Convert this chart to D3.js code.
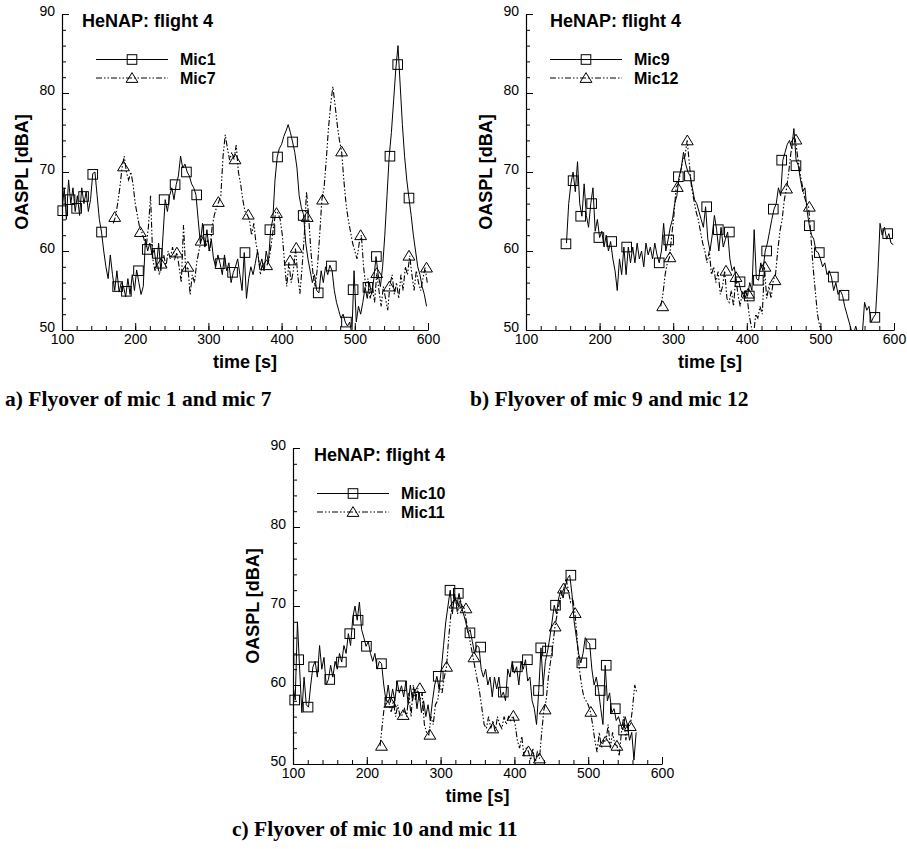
<!DOCTYPE html>
<html>
<head>
<meta charset="utf-8">
<script src="https://cdn.jsdelivr.net/npm/d3@7"></script>
<style>
body { margin: 0; background: #fff; }
svg { display: block; background: #fff; }
</style>
</head>
<body>
<svg width="907" height="849"></svg>
<script>
var mic1Start = 100, mic1Step = 3;
var mic1 = [65, 68, 64, 69, 66, 68, 65, 67, 64.5, 68,
  66, 67.5, 65, 66.5, 69.8, 70, 67, 64, 62.4, 60,
  58, 56.5, 59.5, 57, 55, 57.5, 54.8, 56, 55.5, 54.2,
  56.5, 54.5, 57, 55, 57.6, 56, 54.5, 55.5, 61.5, 60,
  61, 59.5, 60.2, 58, 61, 57.5, 62, 66.5, 65, 67,
  68, 66.5, 68.4, 69.5, 72, 70.5, 71, 70, 69.5, 68.5,
  68, 67.1, 64, 61, 63.5, 60.5, 62.7, 60, 61.5, 59,
  58, 59.5, 58.4, 57, 59.5, 57.5, 58.5, 56, 57.3, 58,
  59, 57, 55, 59.8, 54, 56.5, 58, 57, 58.4, 60,
  58, 59, 57.5, 60, 58.5, 62.7, 64, 69, 71.9, 73,
  73.5, 74.5, 75.2, 76, 75, 73.8, 72.5, 70.5, 67, 65.5,
  64.6, 61, 59, 57.5, 56, 57, 55, 54.7, 57.5, 56,
  58, 57, 58.2, 57.5, 55, 53.5, 52.5, 51.5, 52, 51,
  50.5, 51, 49.5, 57.5, 51, 53, 52, 53.5, 55.4, 54,
  56, 54.5, 56.5, 59.3, 57, 55.5, 58, 62, 67, 72,
  75, 79, 83, 86, 81, 76, 72, 69, 66.7, 64.5,
  62, 60, 58, 57, 55.5, 54.5, 53];

var mic7Start = 170, mic7Step = 3;
var mic7 = [63.5, 64.3, 66, 68, 70.5, 72, 70, 69, 70, 68.5,
  66, 64.5, 63, 62.4, 61.5, 60.5, 63, 67, 59, 57.5,
  58.5, 57, 58.4, 59.5, 58, 60, 59, 60.5, 59, 59.8,
  58, 56, 63.3, 57.5, 58, 54.5, 57, 56, 58.5, 60,
  61.3, 62, 60.5, 61.5, 60, 63, 64.5, 65.5, 66.2, 67,
  72, 74.7, 73, 71.5, 72.5, 71.6, 73.4, 70, 68.5, 66.5,
  65, 64.6, 64, 62, 63.5, 61, 59.5, 57, 58.5, 58,
  58.2, 59, 61, 63, 65, 64.8, 64, 62, 58.5, 55.5,
  58.6, 56, 57.5, 60.3, 57, 54.6, 58, 62, 67.5, 64.3,
  60, 57, 55.5, 58, 62, 66.5, 68, 71.5, 75.5, 78.5,
  80.8, 78.5, 76, 74, 72.6, 69, 66, 64, 62.5, 61,
  60, 59, 61, 62, 58, 55.5, 56.5, 54, 55.5, 53.5,
  57.2, 55, 53, 55.5, 54, 52.5, 55.7, 57, 54.5, 56,
  54, 57, 55, 58, 57, 59.4, 57, 55, 57.5, 56,
  55, 56.5, 57.9, 56];

var mic9Start = 155, mic9Step = 3;
var mic9 = [61, 66, 68.5, 70, 67.5, 71.3, 66, 64.4, 68.5, 64.5,
  63, 66, 68, 62.5, 64, 61.7, 62.5, 60.5, 62, 60,
  61.2, 59, 57.5, 55, 59, 57, 60.5, 57, 60.5, 58.5,
  60.5, 58.5, 61, 59, 60, 58, 61, 59.5, 60.5, 59,
  61, 59.5, 58.5, 60, 63.5, 60, 61.4, 63, 64, 66,
  67, 69.4, 70.5, 72.5, 71, 70, 69.5, 68, 66.5, 66,
  65, 64, 63, 65.6, 61.5, 60, 62, 64.5, 62.7, 60,
  63, 60.5, 61.5, 62.4, 59, 57.5, 58, 56, 56.1, 55,
  54.5, 55, 54.3, 56, 55, 62.7, 56.5, 56.3, 58.5, 57.5,
  60, 61, 62.5, 64, 65.3, 66, 68, 67, 71.5, 72.5,
  73.5, 74, 73, 75.5, 71.5, 70.8, 69, 67.5, 68, 65,
  63.2, 62, 61.5, 60, 59.8, 59, 58, 58.5, 57, 57.5,
  56.7, 55, 56, 54.5, 55, 54.4, 53, 52, 51, 50,
  49.5, 50.5, 49.5, 50, 49.5, 53.5, 52.5, 53, 51, 51.6,
  52, 57, 63.5, 62, 63, 61.5, 62.2, 61, 60.8];

var mic12Start = 283, mic12Step = 3;
var mic12 = [53, 54.5, 57, 58.5, 59.2, 62, 64.5, 68.1, 68.5, 70,
  71.5, 72, 74, 71, 68, 66.5, 65, 64, 62.5, 61,
  60, 58.5, 60, 57, 58, 56, 57.4, 54.5, 55.5, 57.5,
  54, 53.5, 55, 53, 56.7, 54.5, 53, 55, 54, 54.6,
  52, 50.5, 49, 52, 51.5, 53, 52, 58, 54, 55.5,
  54, 56.3, 57, 60, 62.5, 64, 66.5, 67.9, 70, 72.5,
  73.5, 74.1, 72, 70, 68.5, 67, 66, 65.6, 62, 58,
  55, 52, 50.5, 49.5, 49];

var mic10Start = 100, mic10Step = 3;
var mic10 = [60, 58.1, 68, 62, 56.5, 61, 57.5, 57.2, 60, 62.3,
  63, 61, 65, 62, 63.5, 60, 60.7, 62.5, 61, 63,
  62, 64, 62.9, 65, 64, 66.5, 65, 68.5, 70, 68.2,
  70.5, 67, 66, 64.9, 65.5, 64, 63, 64, 62, 63,
  62.7, 60, 58, 60, 57.8, 59.5, 58, 60.5, 59, 59.9,
  58.5, 60.5, 57.5, 60, 58, 59.5, 57, 59, 56.5, 58,
  56, 57.5, 55.5, 58, 60, 61.1, 59.5, 62, 65, 68,
  70, 72, 69, 71.5, 70, 71.6, 70, 69, 68, 66.6,
  67, 65.5, 64, 65, 64.8, 62, 61, 62, 60, 61,
  58.5, 61, 59.5, 61, 58.5, 59.1, 58, 62, 61, 63,
  61.5, 62.3, 60, 63, 62, 63.2, 60.5, 61, 58, 57,
  55, 59.3, 64.7, 60, 63, 64.3, 66, 68, 70.1, 69,
  71, 72, 71, 72.5, 73.5, 73.9, 71.5, 68, 66, 64,
  62.8, 64, 66, 65.5, 65.2, 62, 60, 61, 59.3, 57,
  55, 62.5, 58, 59, 56.5, 57, 55.5, 56, 55, 54.3,
  56, 55, 53, 54, 50.5, 54];

var mic11Start = 218, mic11Step = 3;
var mic11 = [52.3, 55, 57.5, 58, 57.8, 56.5, 58, 56, 57.5, 56,
  56.2, 57, 56, 59, 56, 60, 58, 59.6, 58, 59,
  55, 54, 53.7, 56, 55, 57.5, 58, 60, 59, 61,
  62.3, 66, 69, 70.3, 71, 69, 71, 70, 69.7, 68,
  66.5, 65, 63.5, 62, 60.5, 59, 57, 55, 54.5, 56,
  54.5, 55.5, 54, 56, 55, 54.5, 56, 55, 56, 55.5,
  56.1, 55, 53, 52, 53.5, 51, 52, 51.6, 50.5, 52,
  50, 51.5, 50.7, 54, 56.9, 58, 61, 63, 65, 67.4,
  69, 70.5, 71.5, 72.2, 73.5, 72, 70.5, 71, 69.1, 66,
  62, 60, 58.5, 58, 57.5, 56.6, 55, 53, 51.5, 54,
  52, 53, 52.8, 55, 52, 54, 52.5, 52.3, 51, 54,
  56, 53, 55, 54.8, 57, 60, 59];

// symbol positions [time, OASPL]
var mic1Marks = [[101, 65.1], [111, 66.5], [120, 65.4], [129.5, 66.9], [142, 69.7], [154, 62.4],
  [176, 55.5], [188, 54.9], [204.5, 57.5], [216.5, 60.2], [230, 59.7], [239.5, 66.5],
  [254.5, 68.4], [270, 70], [284, 67.1], [300, 62.7], [316, 58.4], [333, 57.3], [350, 59.8],
  [384, 62.7], [394.5, 71.9], [415, 73.8], [429.5, 64.5], [450, 54.7], [468, 58.1],
  [488.6, 51], [497.7, 55.1], [518, 55.4], [529.5, 59.3], [548, 72], [558.6, 83.6], [574, 66.7]];
var mic7Marks = [[172, 64.3], [184, 70.7], [207, 62.4], [235.5, 58.4], [257, 59.8], [272, 58],
  [290, 61.3], [313.6, 66.2], [336.4, 71.6], [354.5, 64.6], [379.5, 58.2], [393, 64.8],
  [411.6, 58.8], [420, 60.4], [435, 64.3], [456, 66.5], [482, 72.6], [508, 62], [530, 57.2],
  [547.3, 55.5], [574, 59.4], [598, 57.9]];
var mic9Marks = [[154.3, 60.9], [164, 68.9], [174.3, 64.4], [189.2, 66], [199, 61.7], [216.4, 61.2],
  [236.8, 60.5], [281, 58.5], [293.8, 61.4], [307, 69.4], [322, 69.5], [345.5, 65.6],
  [361.3, 62.7], [376.3, 62.4], [390.8, 56.1], [403.4, 54.3], [415.7, 56.3], [427, 60],
  [436, 65.3], [447.4, 71.5], [466.8, 70.8], [485, 63.2], [498.5, 59.8], [517.6, 56.7],
  [532, 54.4], [574, 51.6], [591.4, 62.2]];
var mic12Marks = [[285.7, 53], [295.6, 59.2], [305.6, 68.1], [319.2, 74], [371.7, 57.5], [385.3, 56.7],
  [402, 54.6], [424.7, 58], [438.3, 56.3], [454, 67.9], [466.8, 74.1], [485, 65.6]];
var mic10Marks = [[102.3, 58.1], [107.7, 63.2], [120.4, 57.2], [128, 62.3], [149.8, 60.7], [165.6, 62.9],
  [176.9, 66.5], [188.2, 68.2], [199.5, 64.9], [219.9, 62.7], [231.2, 57.8], [247, 59.9],
  [296.8, 61.1], [312.7, 72], [324, 71.6], [339.8, 66.6], [354.3, 64.8], [385, 59.1],
  [404, 62.3], [417.6, 63.2], [432.6, 59.3], [435.7, 64.7], [444.8, 64.3], [455.7, 70.1],
  [476.5, 73.9], [491.4, 62.8], [503.6, 65.2], [516.3, 59.3], [524.4, 62.5], [536.7, 57], [548, 54.3]];
var mic11Marks = [[219.9, 52.3], [232.1, 57.8], [249.3, 56.2], [271.9, 59.6], [285.5, 53.7], [308.1, 62.3],
  [319.5, 70.3], [334.4, 69.7], [345.2, 63.5], [370.6, 54.5], [398.6, 56.1], [419, 51.6],
  [433.9, 50.7], [441.6, 56.9], [455.2, 67.4], [466.5, 72.2], [482.4, 69.1], [503.6, 56.6],
  [523, 52.8], [538.9, 52.3], [557, 54.8]];

var xTicks = [100, 200, 300, 400, 500, 600];
var yTicks = [50, 60, 70, 80, 90];
var title = "HeNAP: flight 4";
var captions = ["a) Flyover of mic 1 and mic 7", "b) Flyover of mic 9 and mic 12", "c) Flyover of mic 10 and mic 11"];

var svg = d3.select("svg");
var sans = "'Liberation Sans', Arial, Helvetica, sans-serif";
var serif = "'Liberation Serif', 'Times New Roman', serif";
var dashDotDot = "6,2,1.5,2,1.5,2";

function series(start, step, vals) {
  return vals.map(function(v, i) { return [start + i * step, v]; });
}

function marker(g, kind, cx, cy) {
  if (kind == "square") {
    g.append("rect").attr("x", cx - 4.8).attr("y", cy - 4.8)
      .attr("width", 9.6).attr("height", 9.6)
      .attr("fill", "none").attr("stroke", "#000").attr("stroke-width", 1);
  } else {
    g.append("path")
      .attr("d", "M" + cx + "," + (cy - 5.4) + "L" + (cx + 5.9) + "," + (cy + 4.4) + "L" + (cx - 5.9) + "," + (cy + 4.4) + "Z")
      .attr("fill", "none").attr("stroke", "#000").attr("stroke-width", 1);
  }
}

function drawPanel(p, id) {
  var x = d3.scaleLinear().domain([100, 600]).range([p.left, p.right]);
  var y = d3.scaleLinear().domain([50, 90]).range([p.bottom, p.top]);
  var g = svg.append("g");

  g.append("clipPath").attr("id", "clip" + id)
    .append("rect").attr("x", p.left).attr("y", p.top)
    .attr("width", p.right - p.left).attr("height", p.bottom - p.top);

  // minor ticks
  g.append("g").attr("transform", "translate(0," + p.bottom + ")")
    .call(d3.axisBottom(x).tickValues(d3.range(100, 601, 20)).tickSizeInner(-4).tickSizeOuter(0).tickFormat(""))
    .call(function(a) { a.select(".domain").remove(); });
  g.append("g").attr("transform", "translate(" + p.left + ",0)")
    .call(d3.axisLeft(y).tickValues(d3.range(50, 91, 2)).tickSizeInner(-4).tickSizeOuter(0).tickFormat(""))
    .call(function(a) { a.select(".domain").remove(); });

  var xa = g.append("g").attr("transform", "translate(0," + p.bottom + ")")
    .call(d3.axisBottom(x).tickValues(xTicks).tickSizeInner(-7).tickSizeOuter(0).tickPadding(4));
  var ya = g.append("g").attr("transform", "translate(" + p.left + ",0)")
    .call(d3.axisLeft(y).tickValues(yTicks).tickSizeInner(-7).tickSizeOuter(0).tickPadding(7));
  [xa, ya].forEach(function(a) {
    a.selectAll("text").attr("font-family", sans).attr("font-size", 14).attr("fill", "#000");
    a.select(".domain").attr("stroke-width", 1.2);
  });
  ya.selectAll("text").attr("dy", "0.1em");
  g.selectAll(".tick line").attr("stroke", "#000");

  g.append("text").attr("x", (p.left + p.right) / 2).attr("y", p.bottom + 38)
    .attr("text-anchor", "middle").attr("font-family", sans).attr("font-weight", "bold")
    .attr("font-size", 18).text("time [s]");
  g.append("text").attr("transform", "translate(" + (p.left - 34) + "," + ((p.top + p.bottom) / 2) + ") rotate(-90)")
    .attr("text-anchor", "middle").attr("font-family", sans).attr("font-weight", "bold")
    .attr("font-size", 18).text("OASPL [dBA]");

  var line = d3.line().x(function(d) { return x(d[0]); }).y(function(d) { return y(d[1]); });
  var plot = g.append("g").attr("clip-path", "url(#clip" + id + ")");
  plot.append("path").datum(p.solid).attr("d", line)
    .attr("fill", "none").attr("stroke", "#000").attr("stroke-width", 1);
  plot.append("path").datum(p.dashed).attr("d", line)
    .attr("fill", "none").attr("stroke", "#000").attr("stroke-width", 1.1)
    .attr("stroke-dasharray", dashDotDot);

  var mk = g.append("g");
  p.solidMarks.forEach(function(d) { marker(mk, "square", x(d[0]), y(d[1])); });
  p.dashedMarks.forEach(function(d) { marker(mk, "triangle", x(d[0]), y(d[1])); });

  // title and legend
  g.append("text").attr("x", p.left + p.titleDx).attr("y", p.top + 13)
    .attr("font-family", sans).attr("font-weight", "bold").attr("font-size", 18).text(title);
  var rows = [[p.names[0], null, "square"], [p.names[1], dashDotDot, "triangle"]];
  rows.forEach(function(r, i) {
    var ly = p.top + 45.5 + i * 18.5;
    g.append("line").attr("x1", p.left + p.legDx).attr("x2", p.left + p.legDx + 72)
      .attr("y1", ly).attr("y2", ly).attr("stroke", "#000").attr("stroke-width", 1)
      .attr("stroke-dasharray", r[1]);
    marker(g, r[2], p.left + p.legDx + 36, ly);
    g.append("text").attr("x", p.left + p.legDx + 84).attr("y", ly).attr("dy", "0.36em")
      .attr("font-family", sans).attr("font-weight", "bold").attr("font-size", 16).text(r[0]);
  });

  svg.append("text").attr("x", p.capX).attr("y", p.capY)
    .attr("font-family", serif).attr("font-weight", "bold").attr("font-size", 21.5).text(p.caption);
}

var panels = [
  { left: 62, right: 428, top: 14, bottom: 330, titleDx: 20, legDx: 34,
    solid: series(mic1Start, mic1Step, mic1), dashed: series(mic7Start, mic7Step, mic7),
    solidMarks: mic1Marks, dashedMarks: mic7Marks, names: ["Mic1", "Mic7"],
    caption: captions[0], capX: 5, capY: 406 },
  { left: 526, right: 894, top: 14, bottom: 330, titleDx: 24, legDx: 24,
    solid: series(mic9Start, mic9Step, mic9), dashed: series(mic12Start, mic12Step, mic12),
    solidMarks: mic9Marks, dashedMarks: mic12Marks, names: ["Mic9", "Mic12"],
    caption: captions[1], capX: 470, capY: 406 },
  { left: 293, right: 662, top: 448, bottom: 764, titleDx: 21, legDx: 24,
    solid: series(mic10Start, mic10Step, mic10), dashed: series(mic11Start, mic11Step, mic11),
    solidMarks: mic10Marks, dashedMarks: mic11Marks, names: ["Mic10", "Mic11"],
    caption: captions[2], capX: 232, capY: 836 }
];

panels.forEach(function(p, i) { drawPanel(p, i); });
</script>
</body>
</html>
